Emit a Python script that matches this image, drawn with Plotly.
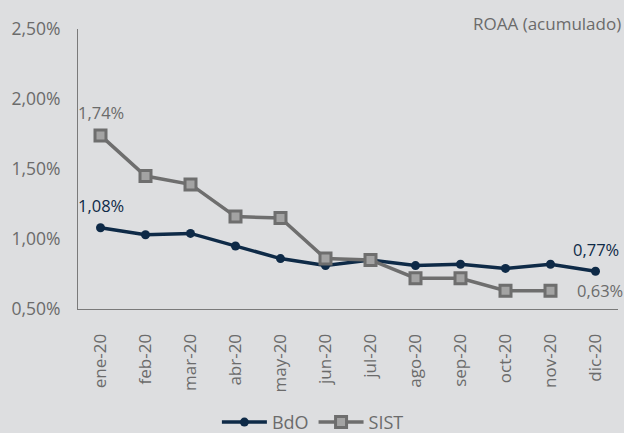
import plotly.graph_objects as go

meses = ["ene-20", "feb-20", "mar-20", "abr-20", "may-20", "jun-20",
         "jul-20", "ago-20", "sep-20", "oct-20", "nov-20", "dic-20"]
bdo = [1.08, 1.03, 1.04, 0.95, 0.86, 0.81, 0.85, 0.81, 0.82, 0.79, 0.82, 0.77]
sist = [1.74, 1.45, 1.39, 1.16, 1.15, 0.86, 0.85, 0.72, 0.72, 0.63, 0.63, None]
y_ticks = [0.5, 1.0, 1.5, 2.0, 2.5]
y_labels = ["0,50%", "1,00%", "1,50%", "2,00%", "2,50%"]

BG = "#dddee0"
NAVY = "#0e2a47"
GRAY = "#6e6e6e"
TXT = "#6b6b6b"
FONT = "Open Sans"

fig = go.Figure()
fig.add_trace(go.Scatter(
    x=meses, y=bdo, name="BdO", mode="lines+markers",
    line=dict(color=NAVY, width=3.5),
    marker=dict(symbol="circle", size=9, color=NAVY),
))
fig.add_trace(go.Scatter(
    x=meses, y=sist, name="SIST", mode="lines+markers",
    line=dict(color=GRAY, width=3.5),
    marker=dict(symbol="square", size=11, color="#a3a3a3",
                line=dict(color=GRAY, width=3)),
))

def fmt(v):
    return f"{v:.2f}".replace(".", ",") + "%"

LBL = 16.5
fig.add_annotation(x=meses[0], y=sist[0], text=fmt(sist[0]), showarrow=False,
                   yshift=23, font=dict(color=TXT, size=LBL, family=FONT))
fig.add_annotation(x=meses[0], y=bdo[0], text=fmt(bdo[0]), showarrow=False,
                   yshift=22, font=dict(color=NAVY, size=LBL, family=FONT))
fig.add_annotation(x=meses[-1], y=bdo[-1], text=fmt(bdo[-1]), showarrow=False,
                   yshift=22, font=dict(color=NAVY, size=LBL, family=FONT))
fig.add_annotation(x=meses[10], y=sist[10], text=fmt(sist[10]), showarrow=False,
                   xshift=49, font=dict(color=TXT, size=LBL, family=FONT))

fig.add_annotation(xref="paper", yref="paper", x=1.0, y=1.0, xanchor="right",
                   yanchor="bottom", text="ROAA (acumulado)", showarrow=False,
                   yshift=-8, xshift=5, font=dict(color=TXT, size=17, family=FONT))

fig.update_layout(
    width=624, height=433,
    paper_bgcolor=BG, plot_bgcolor=BG,
    margin=dict(l=78, r=6, t=29, b=124, autoexpand=False),
    font=dict(family=FONT, color=TXT),
    showlegend=True,
    legend=dict(orientation="h", x=0.435, xanchor="center", y=-0.405, yanchor="middle",
                itemwidth=45,
                font=dict(size=18, color=TXT, family=FONT), bgcolor="rgba(0,0,0,0)"),
    xaxis=dict(
        type="category", range=[-0.5, 11.5], showgrid=False, zeroline=False,
        showline=True, linecolor="#7a7a7a", linewidth=1.2,
        tickangle=-90, tickfont=dict(size=17, color=TXT, family=FONT),
        ticks="", ticklabelstandoff=17, automargin=False,
    ),
    yaxis=dict(
        range=[0.5, 2.5], tickvals=y_ticks, ticktext=y_labels,
        showgrid=False, zeroline=False, showline=True, linecolor="#7a7a7a",
        linewidth=1.2, tickfont=dict(size=17.5, color=TXT, family=FONT),
        ticks="", ticklabelstandoff=13, automargin=False,
    ),
)

fig.write_html("out.html", config={"displayModeBar": False},
               post_script="document.body.style.margin='0';document.body.style.overflow='hidden';")
